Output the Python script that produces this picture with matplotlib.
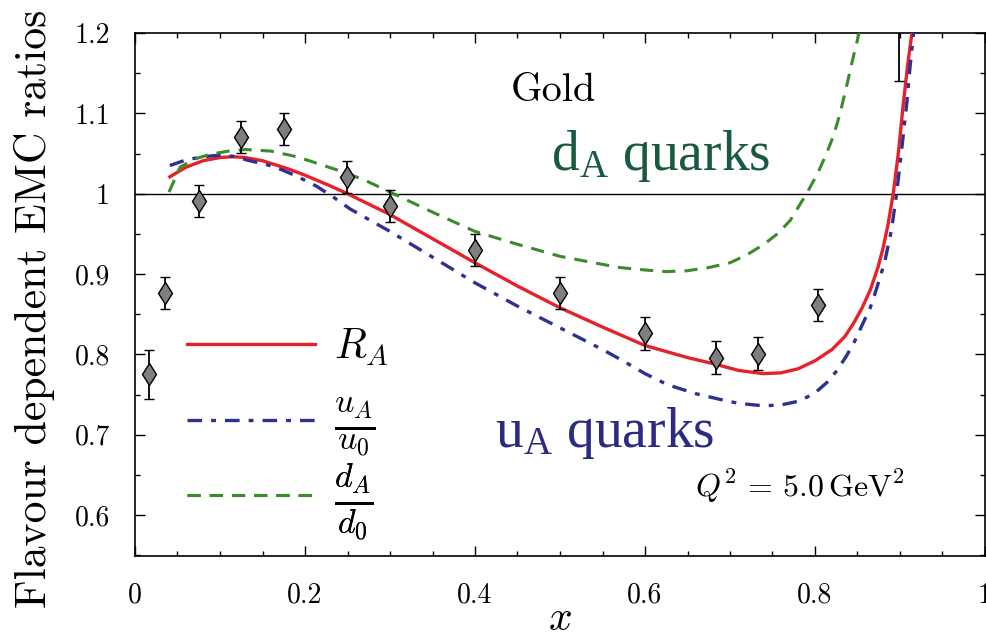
import matplotlib
matplotlib.use('Agg')
import matplotlib.pyplot as plt
from matplotlib.ticker import FixedLocator, FixedFormatter, MultipleLocator

plt.rcParams['font.family'] = 'serif'
plt.rcParams['font.serif'] = ['cmr10']
plt.rcParams['mathtext.fontset'] = 'cm'
plt.rcParams['axes.formatter.use_mathtext'] = True
plt.rcParams['lines.scale_dashes'] = False

# measured ratios for gold
x_data = [0.017, 0.035, 0.075, 0.125, 0.175, 0.25, 0.3, 0.4, 0.5, 0.6, 0.683, 0.733, 0.803, 0.899]
y_data = [0.775, 0.876, 0.991, 1.071, 1.080, 1.021, 0.985, 0.930, 0.876, 0.826, 0.796, 0.801, 0.861, 1.26]
y_err = [0.03, 0.02, 0.02, 0.02, 0.02, 0.02, 0.02, 0.02, 0.02, 0.02, 0.02, 0.02, 0.02, 0.12]

# R_A
x_r = [0.041, 0.06, 0.08, 0.1, 0.115, 0.13, 0.15, 0.18, 0.2, 0.229, 0.25, 0.3, 0.35, 0.4,
       0.45, 0.5, 0.55, 0.6, 0.65, 0.682, 0.71, 0.739, 0.76, 0.78, 0.8, 0.82, 0.835,
       0.845, 0.855, 0.865, 0.874, 0.880, 0.886, 0.892, 0.898, 0.904, 0.909, 0.914, 0.918]
y_r = [1.021, 1.033, 1.041, 1.045, 1.046, 1.045, 1.041, 1.031, 1.023, 1.010, 1.000, 0.974, 0.944, 0.914,
       0.885, 0.858, 0.834, 0.811, 0.796, 0.788, 0.780, 0.776, 0.777, 0.782, 0.792, 0.806, 0.822,
       0.838, 0.857, 0.880, 0.908, 0.932, 0.962, 1.0, 1.05, 1.113, 1.16, 1.2, 1.24]

# u_A / u_0
x_u = [0.041, 0.06, 0.08, 0.1, 0.12, 0.131, 0.163, 0.19, 0.214, 0.233, 0.253, 0.3, 0.35, 0.4,
       0.45, 0.5, 0.55, 0.574, 0.6, 0.627, 0.66, 0.688, 0.71, 0.739, 0.76, 0.782, 0.8, 0.814,
       0.826, 0.837, 0.847, 0.857, 0.865, 0.871, 0.882, 0.89, 0.896, 0.902, 0.908, 0.912,
       0.916, 0.92]
y_u = [1.035, 1.042, 1.046, 1.048, 1.046, 1.042, 1.034, 1.022, 1.009, 0.996, 0.981, 0.953, 0.921, 0.889,
       0.860, 0.833, 0.806, 0.792, 0.776, 0.762, 0.751, 0.744, 0.739, 0.736, 0.737, 0.742, 0.752, 0.765,
       0.780, 0.798, 0.817, 0.840, 0.858, 0.877, 0.915, 0.955, 1.0, 1.055, 1.113, 1.16,
       1.2, 1.24]

# d_A / d_0
x_d = [0.04, 0.053, 0.07, 0.088, 0.11, 0.13, 0.16, 0.19, 0.205, 0.245, 0.27, 0.3, 0.35, 0.4,
       0.45, 0.5, 0.55, 0.571, 0.6, 0.625, 0.649, 0.675, 0.7, 0.72, 0.74, 0.757, 0.771,
       0.79, 0.803, 0.814, 0.822, 0.829, 0.837, 0.845, 0.851, 0.856]
y_d = [1.002, 1.033, 1.043, 1.049, 1.053, 1.055, 1.053, 1.046, 1.041, 1.027, 1.017, 1.002, 0.977, 0.953,
       0.937, 0.922, 0.912, 0.908, 0.905, 0.903, 0.904, 0.908, 0.914, 0.924, 0.937, 0.951, 0.967,
       1.000, 1.025, 1.051, 1.073, 1.098, 1.133, 1.170, 1.196, 1.22]

x_ticks = [0, 0.2, 0.4, 0.6, 0.8, 1.0]
x_ticklabels = ['0', '0.2', '0.4', '0.6', '0.8', '1']
y_ticks = [0.6, 0.7, 0.8, 0.9, 1.0, 1.1, 1.2]
y_ticklabels = ['0.6', '0.7', '0.8', '0.9', '1', '1.1', '1.2']

red = '#e8202a'
blue = '#2e3192'
green = '#3b8b2b'


def main():
    fig = plt.figure(figsize=(9.87, 6.37), dpi=100)
    ax = fig.add_axes([135 / 987, 1 - 556 / 637, 850 / 987, 523 / 637])

    ax.axhline(1.0, color='black', lw=1.0, zorder=1)

    l_r, = ax.plot(x_r, y_r, color=red, lw=2.4, zorder=3, label=r'$R_A$')
    l_u, = ax.plot(x_u, y_u, color=blue, lw=2.4, ls=(0, (10.5, 6.5, 3.5, 6.5)), zorder=3,
                   label=r'$\frac{u_A}{u_0}$')
    l_d, = ax.plot(x_d, y_d, color=green, lw=2.2, ls=(0, (9.5, 6.5)), zorder=3,
                   label=r'$\frac{d_A}{d_0}$')

    ax.errorbar(x_data, y_data, yerr=y_err, fmt='d', color='black', mfc='#7f7f7f', mec='black',
                ms=11.5, mew=1.0, elinewidth=1.3, capsize=3.5, capthick=1.3, zorder=4)

    ax.set_xlim(0, 1)
    ax.set_ylim(0.549, 1.2)
    ax.xaxis.set_major_locator(FixedLocator(x_ticks))
    ax.xaxis.set_major_formatter(FixedFormatter(x_ticklabels))
    ax.yaxis.set_major_locator(FixedLocator(y_ticks))
    ax.yaxis.set_major_formatter(FixedFormatter(y_ticklabels))
    ax.xaxis.set_minor_locator(MultipleLocator(0.05))
    ax.yaxis.set_minor_locator(MultipleLocator(0.05))
    ax.tick_params(which='both', direction='in', top=True, right=True, width=1.0)
    ax.tick_params(which='major', length=7, labelsize=20)
    ax.tick_params(axis='y', which='major', pad=18)
    ax.tick_params(axis='x', which='major', pad=19)
    ax.tick_params(which='minor', length=3.5)
    for s in ax.spines.values():
        s.set_linewidth(1.2)

    ax.set_xlabel(r'$x$', fontsize=30, labelpad=-6)
    ax.set_ylabel('Flavour dependent EMC ratios', fontsize=31.5)
    ax.yaxis.set_label_coords(-0.094, 0.472)

    ax.text(0.442, 1.1155, 'Gold', fontsize=29, va='baseline', ha='left')
    ax.text(0.489, 1.030, r'$\mathregular{d_A}$ quarks', fontsize=40, color='#185a3c',
            family='Liberation Serif', va='baseline', ha='left')
    ax.text(0.4235, 0.6845, r'$\mathregular{u_A}$ quarks', fontsize=40, color='#2b2b82',
            family='Liberation Serif', va='baseline', ha='left')
    ax.text(0.659, 0.6224, r'$Q^2\,=\,5.0\,\mathrm{GeV}^2$', fontsize=23, va='baseline', ha='left')

    # one legend per row so the rows sit evenly spaced
    rows = [(l_r, 0.399, 30), (l_u, 0.247, 35), (l_d, 0.104, 35)]
    for handle, ypos, size in rows:
        leg = ax.legend(handles=[handle], loc='center left', bbox_to_anchor=(0.061, ypos),
                        frameon=False, fontsize=size, handlelength=3.07 * 30 / size,
                        handletextpad=0.45 * 30 / size, borderpad=0, borderaxespad=0)
        ax.add_artist(leg)

    fig.savefig('out.png', dpi=100)


if __name__ == "__main__":
    main()
